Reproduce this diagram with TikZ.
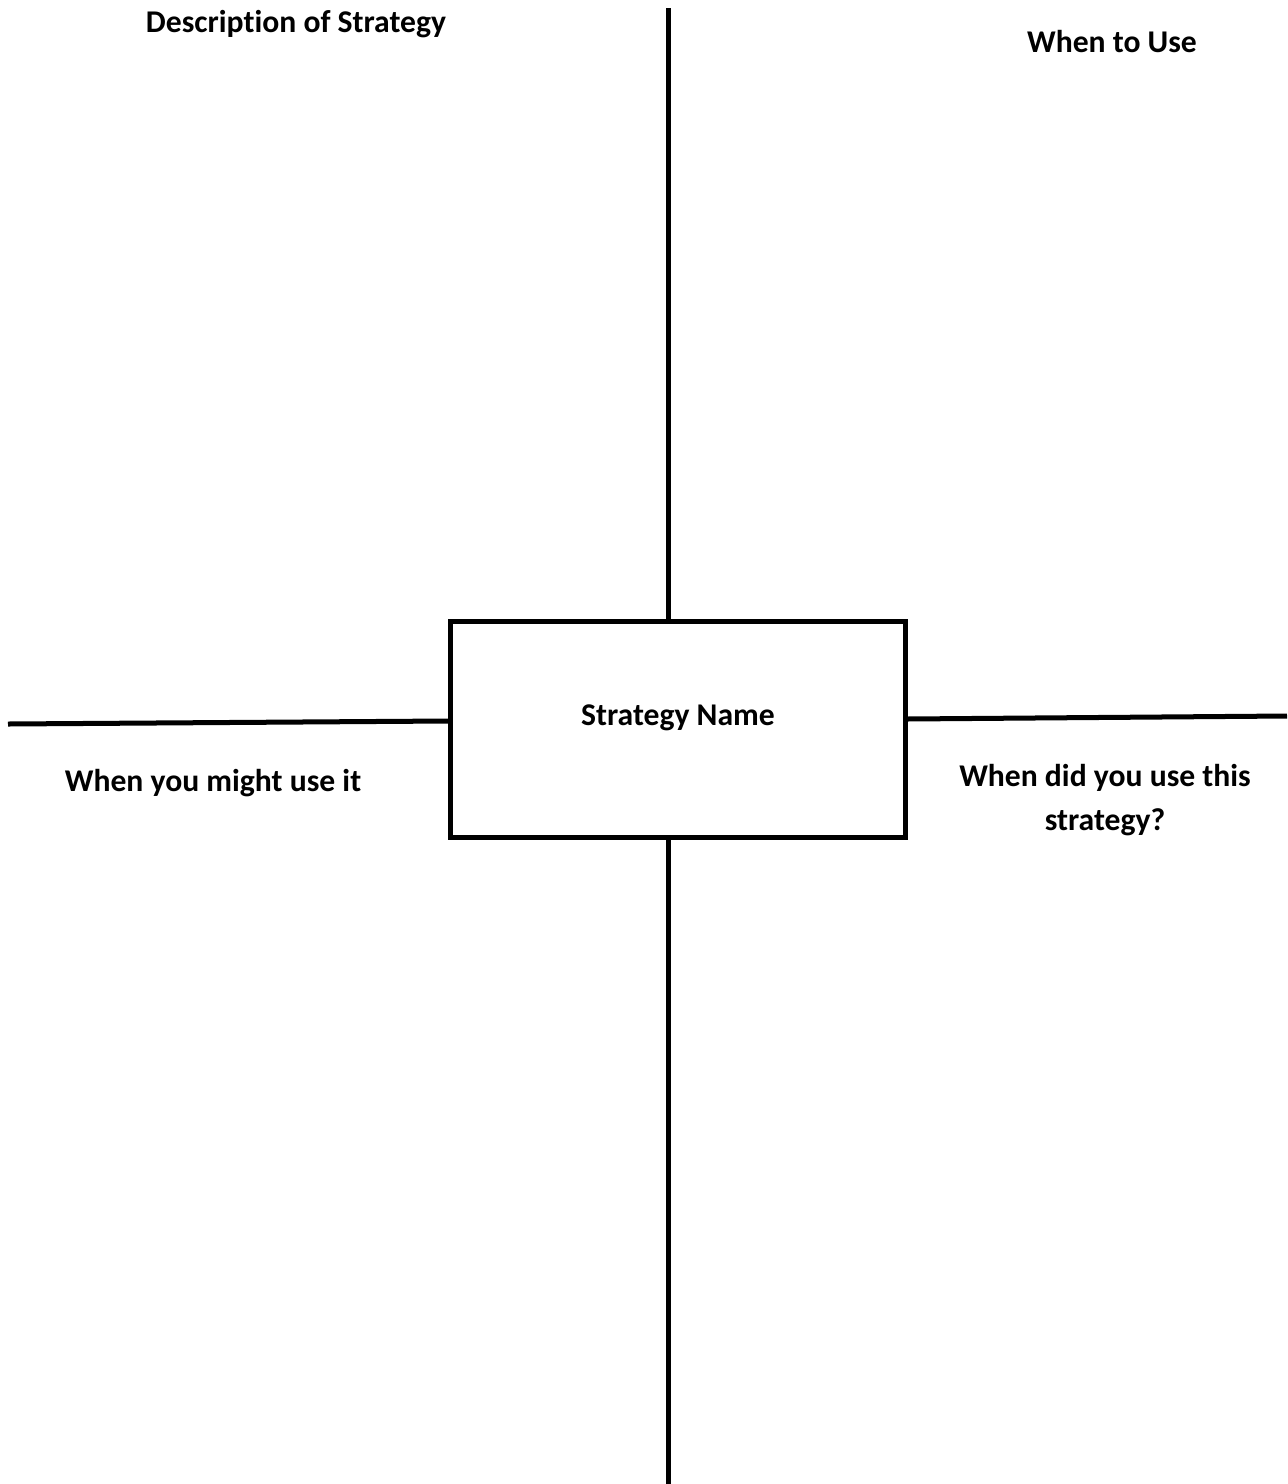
\documentclass[tikz,border=0pt]{standalone}
\usepackage{fontspec}
\setmainfont{Carlito}[Ligatures=NoCommon]
\usepackage{tikz}

\tikzset{
    rule/.style={line width=0.05cm},
    head/.style={font=\fontsize{9pt}{12.5pt}\selectfont\bfseries, inner sep=0pt, align=center}
}

\begin{document}
\begin{tikzpicture}[x=0.01cm,y=-0.01cm]
        \useasboundingbox (0,0) rectangle (1287,1484);
        \node[draw, rule, minimum width=4.54cm, minimum height=2.15cm, inner sep=0pt] (box) at (678,729.5) {};
        \node[head] (name) at (678,718) {Strategy Name};
        \coordinate (top) at (668,8);
        \coordinate (bottom) at (668,1484);
        \coordinate (left) at (8,724);
        \coordinate (right) at (1287,716);
        \draw[rule] (top) -- (top |- box.north);
        \draw[rule] (bottom |- box.south) -- (bottom);
        \draw[rule] (left) -- ([yshift=0.085cm]box.west);
        \draw[rule] ([yshift=0.105cm]box.east) -- (right);
        \node[head] (desc) at (296,24) {Description of Strategy};
        \node[head] (when) at (1112,42) {When to Use};
        \node[head] (might) at (213,783) {When you might use it};
        \node[head] (did) at (1105,800) {When did you use this\\strategy?};
    \end{tikzpicture}
\end{document}
